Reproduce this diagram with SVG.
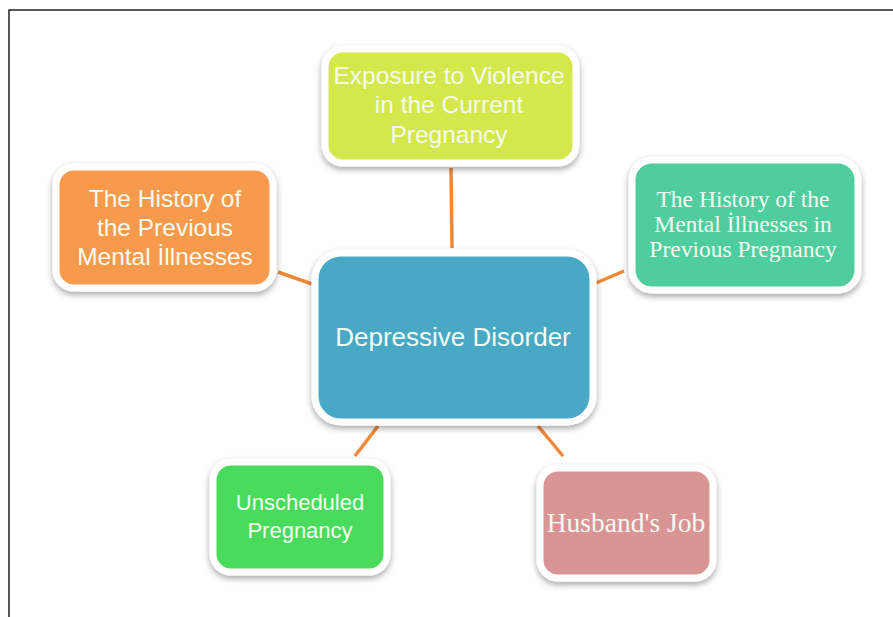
<svg xmlns="http://www.w3.org/2000/svg" width="893" height="617" viewBox="0 0 893 617">
<defs>
<filter id="sh" x="-20%" y="-20%" width="140%" height="150%">
<feDropShadow dx="0" dy="3" stdDeviation="3" flood-color="#000" flood-opacity="0.35"/>
</filter>
</defs>
<style>
.box{stroke:#fff;stroke-width:7;filter:url(#sh)}
.sans{font-family:"Liberation Sans",Arial,sans-serif;fill:#f4fbf2;text-anchor:middle}
.serif{font-family:"Liberation Serif","Times New Roman",serif;fill:#f4fbf2;text-anchor:middle}
.conn line{stroke:#f0883a;stroke-width:3.5;stroke-linecap:butt}
</style>
<rect x="0" y="0" width="893" height="617" fill="#fff"/>
<path d="M9 617 V10 H893" fill="none" stroke="#222" stroke-width="1.5"/>
<g class="conn" id="connectors">
<line x1="451" y1="168" x2="452" y2="248"/>
<line x1="278" y1="272" x2="312" y2="284"/>
<line x1="596" y1="283" x2="624" y2="271"/>
<line x1="378" y1="426" x2="355" y2="456"/>
<line x1="538" y1="426" x2="563" y2="456"/>
</g>
<g id="center">
<rect class="box" x="315" y="253" width="278" height="169" rx="26" fill="#47a9c5"/>
<text class="sans" x="453" y="346" font-size="26">Depressive Disorder</text>
</g>
<g id="violence">
<rect class="box" x="325" y="49" width="251" height="114" rx="18" fill="#d5e84b"/>
<text class="sans" font-size="24.5"><tspan x="449" y="84">Exposure to Violence</tspan><tspan x="449" y="113">in the Current</tspan><tspan x="449" y="143">Pregnancy</tspan></text>
</g>
<g id="previous">
<rect class="box" x="56" y="167" width="217" height="121" rx="18" fill="#f79a4b"/>
<text class="sans" font-size="24.5"><tspan x="165" y="207">The History of</tspan><tspan x="165" y="236">the Previous</tspan><tspan x="165" y="265">Mental İllnesses</tspan></text>
</g>
<g id="pregnancy-history">
<rect class="box" x="632" y="160" width="226" height="130" rx="20" fill="#4fcd9f"/>
<text class="serif" font-size="23.5"><tspan x="743" y="207">The History of the</tspan><tspan x="743" y="232">Mental İllnesses in</tspan><tspan x="743" y="257">Previous Pregnancy</tspan></text>
</g>
<g id="unscheduled">
<rect class="box" x="213" y="462" width="174" height="110" rx="18" fill="#48dc5c"/>
<text class="sans" font-size="22"><tspan x="300" y="510">Unscheduled</tspan><tspan x="300" y="538">Pregnancy</tspan></text>
</g>
<g id="husband">
<rect class="box" x="540" y="468" width="173" height="110" rx="18" fill="#d99494"/>
<text class="serif" x="626" y="532" font-size="27.5">Husband's Job</text>
</g>
</svg>
